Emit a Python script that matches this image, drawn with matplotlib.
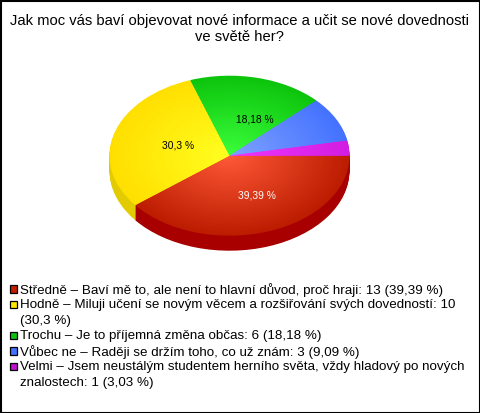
import numpy as np
import matplotlib
matplotlib.use('Agg')
import matplotlib.pyplot as plt
from matplotlib.patches import Rectangle

plt.rcParams['font.family'] = ['Liberation Sans', 'DejaVu Sans']

title = 'Jak moc vás baví objevovat nové informace a učit se nové dovednosti\nve světě her?'
values = [13, 10, 6, 3, 1]
pct_labels = ['39,39 %', '30,3 %', '18,18 %', None, None]
legend_labels = [
    'Středně – Baví mě to, ale není to hlavní důvod, proč hraji: 13 (39,39 %)',
    'Hodně – Miluji učení se novým věcem a rozšiřování svých dovedností: 10\n(30,3 %)',
    'Trochu – Je to příjemná změna občas: 6 (18,18 %)',
    'Vůbec ne – Raději se držím toho, co už znám: 3 (9,09 %)',
    'Velmi – Jsem neustálým studentem herního světa, vždy hladový po nových\nznalostech: 1 (3,03 %)',
]

# colours of the slices: centre, rim, side wall
inner = ['#ff5a38', '#ffff20', '#3cff3c', '#7fa2ff', '#f035ff']
outer = ['#bc1c00', '#ffdf00', '#0cc40c', '#4472ff', '#d21ee0']
side = ['#a80000', '#e2cb00', '#0a9a0a', '#3355cc', '#a010b0']
legend_colors = ['#c41e00', '#ffe600', '#0cc40c', '#4472ff', '#c010d0']
text_colors = ['white', 'black', 'black']

W, H = 480, 413
cx, cy = 229.5, 155.7
rx, ry = 120, 80
depth = 15


def mix(c1, c2, t):
    a = np.array(matplotlib.colors.to_rgb(c1))
    b = np.array(matplotlib.colors.to_rgb(c2))
    return tuple(a + (b - a) * t)


fig = plt.figure(figsize=(W / 100, H / 100), dpi=100, facecolor='white')

# pie axes, one data unit is rx pixels across and ry pixels down
ax = fig.add_axes([0, 0, 1, 1])
for d in np.arange(depth, 0, -1.0):
    ax.pie(values, colors=side, startangle=0, counterclock=False,
           center=(0, -d / ry), wedgeprops={'linewidth': 0.6, 'edgecolor': None})
for r in np.linspace(1, 0.02, 50):
    cols = [mix(i, o, r) for i, o in zip(inner, outer)]
    ax.pie(values, colors=cols, radius=r, startangle=0, counterclock=False,
           wedgeprops={'linewidth': 0})
ax.set_aspect('auto')
ax.set_xlim(-cx / rx, (W - cx) / rx)
ax.set_ylim(-(H - cy) / ry, cy / ry)
ax.patch.set_alpha(0)

# overlay in pixel coordinates for texts and frame
ov = fig.add_axes([0, 0, 1, 1])
ov.set_xlim(0, W)
ov.set_ylim(H, 0)
ov.axis('off')
ov.patch.set_alpha(0)

ov.add_patch(Rectangle((0.5, 0.5), W - 1, H - 1, fill=False, ec='black', lw=1.5, clip_on=False))
for i, part in enumerate(title.split('\n')):
    ov.text(239.5, 21 + i * 16, part, ha='center', va='center', fontsize=10.66, color='black')

pct_pos = [(257, 195), (178, 145.5), (255, 119.5), None, None]
for lab, pos, col in zip(pct_labels, pct_pos, text_colors + [None, None]):
    if lab:
        ov.text(pos[0], pos[1], lab, ha='center', va='center', fontsize=7.4, color=col)

y = 289
line_h = 15.5
for lab, col in zip(legend_labels, legend_colors):
    ov.add_patch(Rectangle((10, y - 4), 6.5, 7.5, fc=col, ec='black', lw=0.9))
    for part in lab.split('\n'):
        ov.text(20, y + 0.8, part, ha='left', va='center', fontsize=9.6, color='black')
        y += line_h

fig.savefig('out.png', dpi=100, facecolor='white')
